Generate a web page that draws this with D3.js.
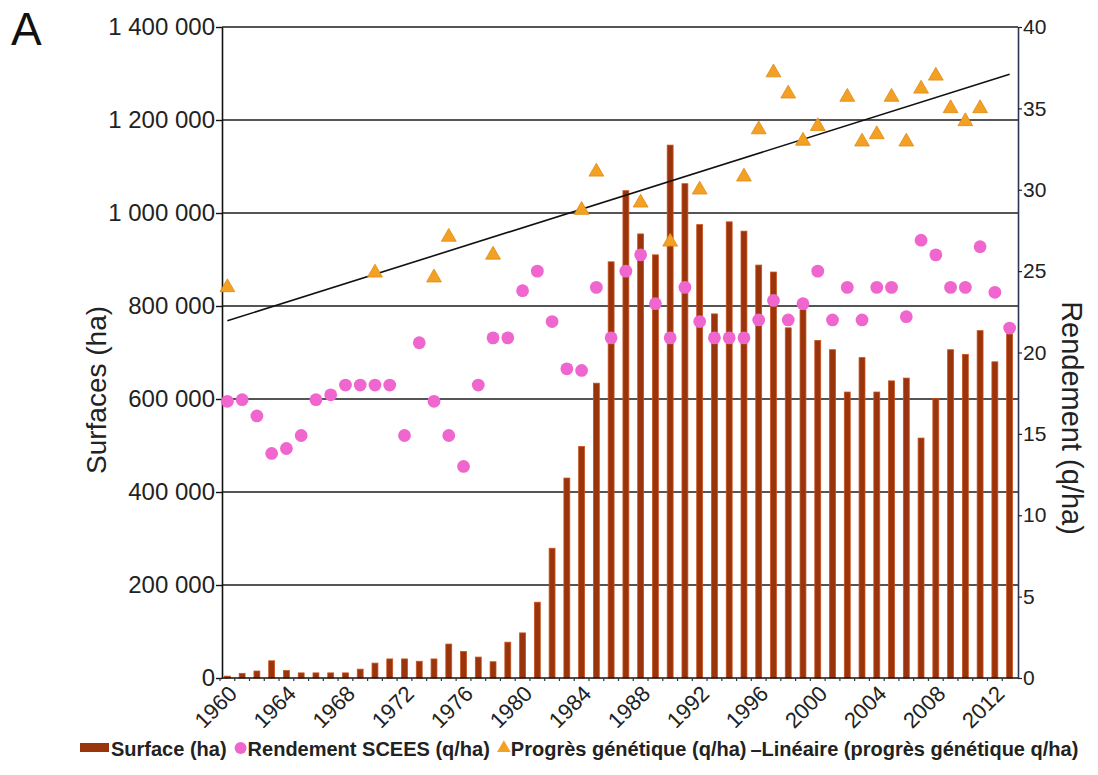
<!DOCTYPE html>
<html>
<head>
<meta charset="utf-8">
<script src="https://cdn.jsdelivr.net/npm/d3@7/dist/d3.min.js"></script>
<style>
  html, body { margin: 0; padding: 0; background: #fff; }
  svg { display: block; font-family: "Liberation Sans", Arial, sans-serif; }
</style>
</head>
<body>
<svg id="chart" width="1098" height="775"></svg>
<script>
// Years on the category axis (1960–2013)
const years = d3.range(1960, 2014);
const yearLabels = [1960, 1964, 1968, 1972, 1976, 1980, 1984, 1988, 1992, 1996, 2000, 2004, 2008, 2012];

// Cultivated area (ha), one value per year
const surface = [
  4000, 10000, 15000, 37000, 16000, 11000, 11000, 11000, 11000, 19000,
  32000, 41000, 41000, 36000, 41000, 73000, 57000, 45000, 35000, 77000,
  97000, 163000, 279000, 430000, 498000, 634000, 895000, 1048000, 955000, 910000,
  1146000, 1063000, 975000, 783000, 981000, 961000, 888000, 873000, 753000, 792000,
  726000, 706000, 615000, 689000, 615000, 639000, 645000, 516000, 601000, 706000,
  696000, 747000, 680000, 740000
];

// SCEES yield (q/ha), one value per year
const rendement = [
  17.0, 17.1, 16.1, 13.8, 14.1, 14.9, 17.1, 17.4, 18.0, 18.0,
  18.0, 18.0, 14.9, 20.6, 17.0, 14.9, 13.0, 18.0, 20.9, 20.9,
  23.8, 25.0, 21.9, 19.0, 18.9, 24.0, 20.9, 25.0, 26.0, 23.0,
  20.9, 24.0, 21.9, 20.9, 20.9, 20.9, 22.0, 23.2, 22.0, 23.0,
  25.0, 22.0, 24.0, 22.0, 24.0, 24.0, 22.2, 26.9, 26.0, 24.0,
  24.0, 26.5, 23.7, 21.5
];

// Genetic progress (q/ha), only for the years that were measured
const progresYears = [1960, 1970, 1974, 1975, 1978, 1984, 1985, 1988, 1990, 1992,
  1995, 1996, 1997, 1998, 1999, 2000, 2002, 2003, 2004, 2005, 2006, 2007, 2008,
  2009, 2010, 2011];
const progres = [24.0, 24.9, 24.6, 27.1, 26.0, 28.75, 31.1, 29.2, 26.8, 30.0,
  30.8, 33.7, 37.2, 35.9, 33.0, 33.9, 35.7, 32.95, 33.4, 35.7, 32.95, 36.2, 37.0,
  35.0, 34.2, 35.0];

// Linear trend of genetic progress, end points
const trendYears = [1960, 2013];
const trendValues = [21.95, 37.1];

// Axis ticks
const leftTicks = [0, 200000, 400000, 600000, 800000, 1000000, 1200000, 1400000];
const rightTicks = [0, 5, 10, 15, 20, 25, 30, 35, 40];

const svg = d3.select("#chart");
const plot = { left: 222, right: 1018, top: 27, bottom: 678 };

const x = d3.scaleBand().domain(years).range([220, 1017]).paddingInner(0.6).paddingOuter(0.3);
const xc = yr => x(yr) + x.bandwidth() / 2;
const yL = d3.scaleLinear().domain([0, 1400000]).range([plot.bottom, plot.top]);
const yR = d3.scaleLinear().domain([0, 40]).range([plot.bottom, plot.top]);

const fr = d3.formatLocale({ decimal: ",", thousands: " ", grouping: [3], currency: ["", ""] });
const fmt = fr.format(",d");

// Horizontal grid lines
svg.append("g").selectAll("line").data(leftTicks.filter(d => d > 0)).join("line")
  .attr("x1", plot.left).attr("x2", plot.right)
  .attr("y1", d => yL(d)).attr("y2", d => yL(d))
  .attr("stroke", "#1c1c1c").attr("stroke-width", 1.6);

// Bars
svg.append("g").selectAll("rect").data(years).join("rect")
  .attr("x", d => x(d)).attr("width", x.bandwidth())
  .attr("y", (d, i) => yL(surface[i]))
  .attr("height", (d, i) => plot.bottom - yL(surface[i]))
  .attr("fill", "#9a340c").attr("stroke", "#c9521c").attr("stroke-width", 0.8);

// Left axis
const gL = svg.append("g").attr("transform", `translate(${plot.left},0)`)
  .call(d3.axisLeft(yL).tickValues(leftTicks).tickFormat(fmt).tickSize(6).tickSizeOuter(0));
gL.select(".domain").attr("stroke", "#111").attr("stroke-width", 1.6);
gL.selectAll(".tick line").attr("stroke", "#111").attr("stroke-width", 1.4);
gL.selectAll(".tick text").attr("font-size", 24).attr("fill", "#222").attr("x", -7)
  .attr("font-family", "Liberation Sans, Arial, sans-serif");

// Right axis
const gR = svg.append("g").attr("transform", `translate(${plot.right},0)`)
  .call(d3.axisRight(yR).tickValues(rightTicks).tickSize(4).tickSizeOuter(0));
gR.select(".domain").attr("stroke", "#2e3656").attr("stroke-width", 1.6);
gR.selectAll(".tick line").attr("stroke", "#222").attr("stroke-width", 1.2);
gR.selectAll(".tick text").attr("font-size", 21).attr("fill", "#222").attr("x", 5)
  .attr("font-family", "Liberation Sans, Arial, sans-serif");

// Bottom axis
const gB = svg.append("g").attr("transform", `translate(0,${plot.bottom})`);
gB.append("line").attr("x1", plot.left).attr("x2", plot.right)
  .attr("stroke", "#111").attr("stroke-width", 1.6);
gB.selectAll("line.tk").data(years).join("line").attr("class", "tk")
  .attr("x1", d => x(d) - (x.step() - x.bandwidth()) / 2).attr("x2", d => x(d) - (x.step() - x.bandwidth()) / 2)
  .attr("y1", 0).attr("y2", 3).attr("stroke", "#333").attr("stroke-width", 1.2);
gB.selectAll("text").data(yearLabels).join("text")
  .attr("transform", d => `translate(${xc(d) + 11},17) rotate(-45)`)
  .attr("text-anchor", "end").attr("font-size", 22).attr("fill", "#222")
  .text(d => d);

// Linear trend line
const line = d3.line().x(d => xc(d[0])).y(d => yR(d[1]));
svg.append("path").datum(trendYears.map((yr, i) => [yr, trendValues[i]]))
  .attr("d", line).attr("fill", "none").attr("stroke", "#111").attr("stroke-width", 1.6);

// Genetic progress triangles
const tri = d3.symbol().type(d3.symbolTriangle).size(95);
svg.append("g").selectAll("path").data(progresYears).join("path")
  .attr("d", tri)
  .attr("transform", (d, i) => `translate(${xc(d)},${yR(progres[i])})`)
  .attr("fill", "#f2a124").attr("stroke", "#e08a10").attr("stroke-width", 0.8);

// SCEES yield dots
svg.append("g").selectAll("circle").data(years).join("circle")
  .attr("cx", d => xc(d)).attr("cy", (d, i) => yR(rendement[i]))
  .attr("r", 6.4).attr("fill", "#f066cf");

// Axis titles
svg.append("text").attr("transform", `translate(106,390) rotate(-90)`)
  .attr("text-anchor", "middle").attr("font-size", 28).attr("fill", "#222")
  .text("Surfaces (ha)");
svg.append("text").attr("transform", `translate(1062,418) rotate(90)`)
  .attr("text-anchor", "middle").attr("font-size", 29).attr("fill", "#222")
  .text("Rendement (q/ha)");

// Panel letter
svg.append("text").attr("x", 11).attr("y", 45).attr("font-size", 46).attr("fill", "#111").text("A");

// Legend
const lg = svg.append("g").attr("font-size", 20).attr("font-weight", "bold").attr("fill", "#222");
const ly = 756;
let cx = 80;
lg.append("rect").attr("x", cx).attr("y", ly - 13).attr("width", 29).attr("height", 9).attr("fill", "#9a340c");
cx += 31;
let t = lg.append("text").attr("x", cx).attr("y", ly).text("Surface (ha)");
cx += t.node().getComputedTextLength() + 14;
lg.append("circle").attr("cx", cx).attr("cy", ly - 8).attr("r", 6).attr("fill", "#f066cf");
cx += 7;
t = lg.append("text").attr("x", cx).attr("y", ly).text("Rendement SCEES (q/ha)");
cx += t.node().getComputedTextLength() + 14;
lg.append("path").attr("d", d3.symbol().type(d3.symbolTriangle).size(80))
  .attr("transform", `translate(${cx},${ly - 8})`).attr("fill", "#f2a124");
cx += 7;
t = lg.append("text").attr("x", cx).attr("y", ly).text("Progrès génétique (q/ha)");
cx += t.node().getComputedTextLength() + 4;
lg.append("text").attr("x", cx).attr("y", ly).text("–Linéaire (progrès génétique q/ha)");
</script>
</body>
</html>
